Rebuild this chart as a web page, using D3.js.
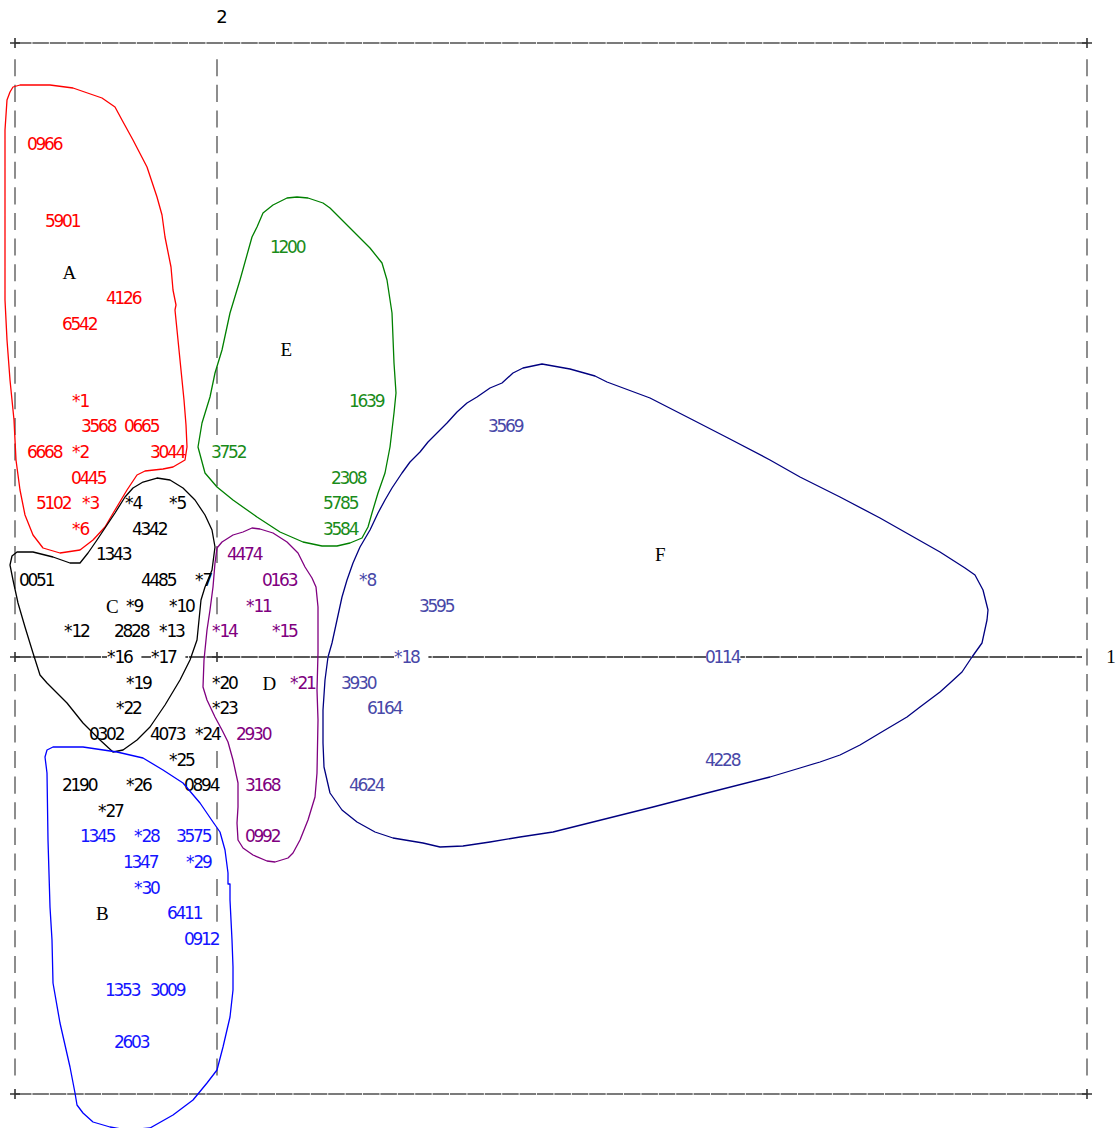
<!DOCTYPE html>
<html>
<head>
<meta charset="utf-8">
<script src="https://cdn.jsdelivr.net/npm/d3@7"></script>
<style>
  html, body { margin: 0; padding: 0; background: #fff; }
  svg { display: block; }
</style>
</head>
<body>
<svg id="chart" width="1118" height="1128"></svg>
<script>
// Factorial plane (axis 1 horizontal, axis 2 vertical) with individuals,
// supplementary points (*n) and the outlines of six classes A-F.

// ---- plotting window (axis units) ----
const AXIS1 = [-2.02, 8.70];
const AXIS2 = [-4.37, 6.14];
const CELL = 0.086;    // width of one printed character, axis-1 units
const ROW = 0.2562;    // height of one printed line, axis-2 units

// ---- labelled points: [label, axis1, axis2] ----
const classA = [
  ["0966", -1.89, 5.13], ["5901", -1.71, 4.36], ["4126", -1.10, 3.59],
  ["6542", -1.54, 3.33], ["*1", -1.45, 2.56], ["3568", -1.35, 2.31],
  ["0665", -0.92, 2.31], ["6668", -1.89, 2.05], ["*2", -1.45, 2.05],
  ["3044", -0.66, 2.05], ["0445", -1.45, 1.79], ["5102", -1.80, 1.54],
  ["*3", -1.35, 1.54], ["*6", -1.45, 1.28]
];
const classC = [
  ["*4", -0.92, 1.54], ["*5", -0.48, 1.54], ["4342", -0.84, 1.28],
  ["1343", -1.20, 1.03], ["0051", -1.97, 0.77], ["4485", -0.75, 0.77],
  ["*7", -0.22, 0.77], ["*9", -0.91, 0.51], ["*10", -0.48, 0.51],
  ["*12", -1.53, 0.26], ["2828", -1.02, 0.26], ["*13", -0.58, 0.26],
  ["*16", -1.10, 0.00], ["*17", -0.66, 0.00], ["*19", -0.91, -0.26],
  ["*20", -0.05, -0.26], ["*22", -1.01, -0.51], ["*23", -0.05, -0.51],
  ["0302", -1.27, -0.77], ["4073", -0.66, -0.77], ["*24", -0.22, -0.77],
  ["*25", -0.48, -1.03], ["2190", -1.54, -1.28], ["*26", -0.91, -1.28],
  ["0894", -0.32, -1.28], ["*27", -1.19, -1.54]
];
const classD = [
  ["4474", 0.11, 1.03], ["0163", 0.46, 0.77], ["*11", 0.29, 0.51],
  ["*14", -0.05, 0.26], ["*15", 0.55, 0.26], ["*21", 0.73, -0.26],
  ["2930", 0.20, -0.77], ["3168", 0.29, -1.28], ["0992", 0.29, -1.79]
];
const classE = [
  ["1200", 0.54, 4.10], ["1639", 1.33, 2.56], ["3752", -0.05, 2.05],
  ["2308", 1.15, 1.79], ["5785", 1.07, 1.54], ["3584", 1.07, 1.28]
];
const classF = [
  ["3569", 2.72, 2.31], ["*8", 1.42, 0.77], ["3595", 2.03, 0.51],
  ["*18", 1.77, 0.00], ["0114", 4.89, 0.00], ["3930", 1.25, -0.26],
  ["6164", 1.51, -0.51], ["4228", 4.89, -1.03], ["4624", 1.33, -1.28]
];
const classB = [
  ["1345", -1.36, -1.79], ["*28", -0.83, -1.79], ["3575", -0.40, -1.79],
  ["1347", -0.93, -2.05], ["*29", -0.31, -2.05], ["*30", -0.83, -2.31],
  ["6411", -0.49, -2.56], ["0912", -0.32, -2.82], ["1353", -1.11, -3.33],
  ["3009", -0.66, -3.33], ["2603", -1.02, -3.85]
];

// ---- class centres (letters) ----
const classNames = ["A", "B", "C", "D", "E", "F"];
const classCx = [-1.52, -1.19, -1.09, 0.48, 0.65, 4.39];
const classCy = [3.85, -2.56, 0.51, -0.26, 3.08, 1.03];

// ---- class outlines (axis units) ----
const hullA = [
  [-2.07,5.65],[-2.04,5.70],[-1.97,5.72],[-1.67,5.72],[-1.44,5.69],[-1.15,5.59],
  [-1.02,5.50],[-0.95,5.37],[-0.84,5.17],[-0.70,4.90],[-0.60,4.60],[-0.55,4.42],
  [-0.52,4.20],[-0.46,3.90],[-0.44,3.67],[-0.41,3.52],[-0.42,3.47],[-0.39,3.17],[-0.36,2.87],
  [-0.33,2.57],[-0.31,2.32],[-0.30,2.10],[-0.32,1.97],[-0.44,1.90],[-0.54,1.88],
  [-0.72,1.86],[-0.80,1.82],[-0.90,1.67],[-1.02,1.47],[-1.12,1.30],[-1.24,1.17],
  [-1.37,1.07],[-1.57,1.04],[-1.74,1.09],[-1.84,1.22],[-1.92,1.42],[-1.97,1.67],
  [-2.01,1.97],[-2.03,2.37],[-2.07,2.77],[-2.10,3.17],[-2.12,3.57],[-2.12,4.57],
  [-2.12,5.27],[-2.10,5.57]
];
const hullC = [
  [-0.47,1.77],[-0.34,1.69],[-0.22,1.57],[-0.12,1.42],[-0.05,1.27],[-0.02,1.10],
  [-0.05,0.87],[-0.12,0.70],[-0.16,0.57],[-0.18,0.37],[-0.20,0.17],[-0.27,-0.03],
  [-0.37,-0.23],[-0.52,-0.48],[-0.67,-0.70],[-0.80,-0.83],[-0.94,-0.93],[-1.04,-0.95],
  [-1.17,-0.83],[-1.34,-0.66],[-1.50,-0.46],[-1.70,-0.26],[-1.77,-0.18],[-1.84,0.04],
  [-1.92,0.30],[-1.99,0.54],[-2.04,0.77],[-2.07,0.92],[-2.05,1.01],[-2.00,1.05],
  [-1.84,1.05],[-1.64,1.00],[-1.47,0.94],[-1.37,0.94],[-1.29,1.04],[-1.20,1.17],
  [-1.10,1.32],[-1.02,1.44],[-0.92,1.60],[-0.84,1.69],[-0.74,1.75],[-0.60,1.79]
];
const hullB = [
  [-1.70,-0.93],[-1.64,-0.90],[-1.34,-0.90],[-1.00,-0.95],[-0.74,-1.01],[-0.54,-1.13],
  [-0.34,-1.26],[-0.17,-1.46],[-0.04,-1.65],[0.03,-1.75],[0.08,-1.93],[0.11,-2.16],
  [0.11,-2.27],[0.13,-2.27],[0.13,-2.43],[0.15,-2.83],[0.16,-3.10],[0.16,-3.33],[0.13,-3.60],[0.06,-3.90],
  [0.00,-4.13],[-0.10,-4.26],[-0.24,-4.43],[-0.44,-4.58],[-0.67,-4.71],[-0.90,-4.73],
  [-1.07,-4.70],[-1.24,-4.65],[-1.34,-4.56],[-1.40,-4.48],[-1.42,-4.36],[-1.47,-4.10],
  [-1.57,-3.66],[-1.64,-3.26],[-1.65,-2.83],[-1.67,-2.50],[-1.69,-1.83],[-1.70,-1.16],
  [-1.72,-1.00]
];
const hullE = [
  [0.80,4.60],[0.91,4.59],[1.06,4.54],[1.13,4.49],[1.33,4.29],[1.53,4.09],
  [1.65,3.94],[1.70,3.77],[1.75,3.44],[1.77,2.94],[1.79,2.64],[1.77,2.44],
  [1.73,2.10],[1.68,1.84],[1.61,1.64],[1.55,1.44],[1.51,1.30],[1.45,1.19],
  [1.33,1.14],[1.20,1.11],[1.05,1.11],[0.86,1.15],[0.63,1.25],[0.40,1.40],
  [0.16,1.57],[0.00,1.70],[-0.12,1.84],[-0.19,2.10],[-0.15,2.34],[-0.07,2.60],
  [-0.02,2.84],[0.05,3.07],[0.13,3.44],[0.23,3.77],[0.35,4.20],[0.40,4.30],
  [0.46,4.44],[0.56,4.52],[0.70,4.59]
];
const hullD = [
  [0.35,1.29],[0.43,1.28],[0.56,1.24],[0.70,1.15],[0.81,1.04],[0.88,0.90],
  [0.95,0.79],[0.99,0.70],[1.01,0.50],[1.01,0.04],[1.00,-0.33],[1.01,-0.63],
  [1.00,-1.16],[0.98,-1.40],[0.91,-1.63],[0.83,-1.83],[0.76,-1.96],[0.71,-2.01],
  [0.58,-2.05],[0.50,-2.04],[0.36,-1.98],[0.26,-1.91],[0.21,-1.83],[0.20,-1.66],
  [0.21,-1.50],[0.21,-1.26],[0.16,-1.03],[0.11,-0.85],[0.05,-0.73],[-0.02,-0.60],
  [-0.10,-0.43],[-0.14,-0.30],[-0.13,-0.03],[-0.10,0.27],[-0.07,0.47],[-0.04,0.70],
  [-0.02,0.94],[0.00,1.09],[0.05,1.15],[0.16,1.22],[0.26,1.25]
];
const hullF = [
  [3.25,2.93],[3.53,2.88],[3.78,2.81],[3.90,2.75],[4.33,2.59],[4.76,2.37],
  [5.11,2.19],[5.53,1.97],[5.83,1.80],[6.23,1.60],[6.63,1.39],[6.93,1.22],
  [7.23,1.05],[7.48,0.89],[7.58,0.82],[7.66,0.67],[7.71,0.47],[7.70,0.37],
  [7.65,0.14],[7.55,0.00],[7.45,-0.15],[7.33,-0.26],[7.23,-0.35],[7.03,-0.50],
  [6.90,-0.60],[6.63,-0.76],[6.43,-0.88],[6.23,-0.98],[6.03,-1.05],[5.83,-1.11],
  [5.53,-1.20],[4.90,-1.36],[4.36,-1.50],[3.76,-1.65],[3.36,-1.75],[3.03,-1.80],
  [2.73,-1.85],[2.46,-1.89],[2.23,-1.90],[2.06,-1.86],[1.76,-1.81],[1.58,-1.75],
  [1.40,-1.65],[1.25,-1.53],[1.13,-1.36],[1.07,-1.10],[1.06,-0.86],[1.06,-0.53],
  [1.08,-0.23],[1.11,0.00],[1.15,0.14],[1.20,0.37],[1.25,0.60],[1.30,0.77],
  [1.36,0.94],[1.43,1.10],[1.53,1.27],[1.61,1.44],[1.68,1.57],[1.75,1.69],
  [1.85,1.84],[1.93,1.95],[2.03,2.05],[2.11,2.15],[2.21,2.25],[2.30,2.34],
  [2.40,2.45],[2.50,2.54],[2.60,2.60],[2.73,2.69],[2.85,2.74],[2.96,2.84],
  [3.06,2.89]
];

// ---- styles per class ----
const groups = [
  { pts: classA, text: "#ff0000" },
  { pts: classC, text: "#000000" },
  { pts: classD, text: "#800080" },
  { pts: classE, text: "#1a8c1a" },
  { pts: classF, text: "#4848a8" },
  { pts: classB, text: "#1414ff" }
];
const outlines = [
  { pts: hullA, color: "#ff0000" },
  { pts: hullC, color: "#000000" },
  { pts: hullB, color: "#0000ff" },
  { pts: hullE, color: "#008000" },
  { pts: hullD, color: "#800080" },
  { pts: hullF, color: "#000080" }
];

const svg = d3.select("#chart");
const x = d3.scaleLinear().domain(AXIS1).range([15, 1087]);
const y = d3.scaleLinear().domain(AXIS2).range([1094, 43]);
const cw = x(CELL) - x(0);                     // px per character
const rowPx = y(0) - y(ROW);                   // px per printed line

// ---- frame and axes ----
const frame = svg.append("g").attr("fill", "none");
const hLine = (yv, x0, x1, col) => frame.append("line")
  .attr("x1", x(x0)).attr("x2", x(x1)).attr("y1", y(yv)).attr("y2", y(yv))
  .attr("stroke", col).attr("stroke-width", 1.3).attr("stroke-dasharray", "16.5 0.9");
hLine(AXIS2[1], AXIS1[0], AXIS1[1], "#505050");
hLine(AXIS2[0], AXIS1[0], AXIS1[1], "#505050");
hLine(0, AXIS1[0], AXIS1[1] - 0.05, "#222");

const rows = d3.range(-16, 24);
const vDashes = (xv, skipZero) => frame.append("g")
  .selectAll("line")
  .data(rows.filter(r => !(skipZero && r === 0)))
  .join("line")
  .attr("x1", x(xv)).attr("x2", x(xv))
  .attr("y1", r => y(r * ROW) - rowPx / 3)
  .attr("y2", r => y(r * ROW) + rowPx / 3)
  .attr("stroke", "#505050").attr("stroke-width", 1.3);
vDashes(AXIS1[0], true);
vDashes(0, true);
vDashes(AXIS1[1], false);

// "+" crossings
const crosses = [[AXIS1[0], AXIS2[1]], [AXIS1[1], AXIS2[1]], [AXIS1[0], AXIS2[0]],
                 [AXIS1[1], AXIS2[0]], [AXIS1[0], 0], [0, 0]];
frame.append("g").selectAll("path").data(crosses).join("path")
  .attr("d", d => `M${x(d[0]) - 5},${y(d[1])}h10M${x(d[0])},${y(d[1]) - 5}v10`)
  .attr("stroke", "#333").attr("stroke-width", 1.6);

// ---- labels: each one fills a 4-character field that blanks the grid ----
const labels = groups.flatMap(g => g.pts.map(p => ({ t: p[0], x: p[1], y: p[2], c: g.text })));

svg.append("g").selectAll("rect").data(labels).join("rect")
  .attr("x", d => x(d.x)).attr("y", d => y(d.y) - rowPx * 0.36)
  .attr("width", cw * 4).attr("height", rowPx * 0.72)
  .attr("fill", "#fff");

svg.append("g")
  .attr("font-family", "'DejaVu Sans', Verdana, sans-serif")
  .attr("font-size", 17)
  .attr("text-anchor", "middle")
  .selectAll("text").data(labels).join("text")
  .attr("x", d => Array.from(d.t, (ch, i) => (x(d.x) + cw * (i + 0.5)).toFixed(2)).join(" "))
  .attr("y", d => y(d.y))
  .attr("dy", "0.37em")
  .attr("fill", d => d.c)
  .text(d => d.t);

// class letters
svg.append("g")
  .attr("font-family", "'Liberation Serif', 'Times New Roman', serif")
  .attr("font-size", 19)
  .attr("text-anchor", "middle")
  .attr("fill", "#000")
  .selectAll("text").data(classNames).join("text")
  .attr("x", (d, i) => x(classCx[i]) + cw / 2)
  .attr("y", (d, i) => y(classCy[i]))
  .attr("dy", "0.36em")
  .text(d => d);

// axis numbers
svg.append("text")
  .attr("x", x(0) + 5).attr("y", y(AXIS2[1]) - 26)
  .attr("text-anchor", "middle")
  .attr("font-family", "'DejaVu Sans', sans-serif").attr("font-size", 18)
  .attr("fill", "#000").attr("dy", "0.36em").text("2");
svg.append("text")
  .attr("x", x(AXIS1[1]) + 24).attr("y", y(0))
  .attr("text-anchor", "middle")
  .attr("font-family", "'Liberation Serif', 'Times New Roman', serif").attr("font-size", 19)
  .attr("fill", "#000").attr("dy", "0.33em").text("1");

// ---- class outlines ----
const outline = d3.line().x(d => x(d[0])).y(d => y(d[1])).curve(d3.curveLinearClosed);
svg.append("g").attr("fill", "none").attr("stroke-width", 1.3).attr("stroke-linejoin", "round")
  .selectAll("path").data(outlines).join("path")
  .attr("stroke", d => d.color)
  .attr("d", d => outline(d.pts));
</script>
</body>
</html>
